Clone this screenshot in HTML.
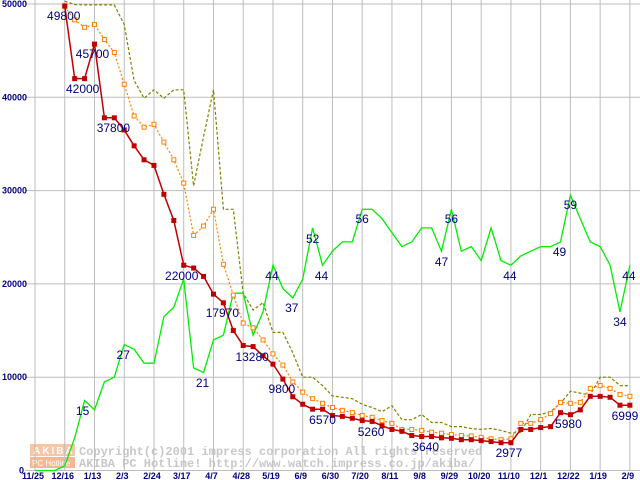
<!DOCTYPE html>
<html><head><meta charset="utf-8"><style>
html,body{margin:0;padding:0;background:#fff;}
svg{display:block;}
.tk{font-family:"Liberation Sans",sans-serif;font-size:9px;font-weight:bold;fill:#000080;}
.lb{font-family:"Liberation Sans",sans-serif;font-size:12px;fill:#000080;}
.wm{font-family:"Liberation Mono",monospace;font-size:12px;font-weight:bold;fill:#c8c8c8;}
</style></head><body>
<svg id="chart" width="640" height="480" viewBox="0 0 640 480">
<g id="wm">
<rect x="30" y="444" width="45" height="12" fill="#f7c6a4"/>
<rect x="30" y="457" width="45" height="11" fill="#f5b890"/>
<text x="33" y="454" font-family="Liberation Sans,sans-serif" font-size="10" font-weight="bold" fill="#fff" letter-spacing="2">AKIBA</text>
<text x="32" y="466" font-family="Liberation Sans,sans-serif" font-size="8" fill="#fff">PC Hotline</text>
<text class="wm" x="79" y="455">Copyright(c)2001 impress corporation All rights reserved</text>
<text class="wm" x="79" y="467">AKIBA PC Hotline!  http://www.watch.impress.co.jp/akiba/</text>
</g>
<g id="grid"></g><g id="series"></g><g id="labels"></g>
</svg>
<script>
const xLabels=["11/25","12/16","1/13","2/3","2/24","3/17","4/7","4/28","5/19","6/9","6/30","7/20","8/11","9/8","9/29","10/20","11/10","12/1","12/22","1/19","2/9"];
const yTicks=[0,10000,20000,30000,40000,50000];
const redPrice=[null,null,null,49800,42000,42000,45700,37800,37800,36500,34800,33300,32700,29600,26800,22000,21700,20800,18900,17970,15000,13400,13280,12300,11400,9800,7900,7100,6570,6570,5900,5800,5600,5350,5260,4800,4400,4200,3750,3640,3640,3500,3450,3300,3300,3200,3100,2977,2977,4400,4400,4600,4700,6200,5980,6500,7950,7950,7850,6999,6999];
const orangePrice=[null,null,null,49700,48300,47500,47800,46200,44800,41400,38000,36800,37100,35200,33300,30800,25200,26200,28000,22100,18800,15800,15300,14000,12500,11300,9500,8400,7700,7200,6750,6450,6200,5900,5700,5350,5050,4400,4400,4300,4100,4000,3850,3750,3700,3550,3400,3300,3400,5050,5050,5450,6100,7300,7200,7300,8800,9100,8800,8150,7950];
const olivePrice=[null,null,null,50300,49950,49900,49900,49900,49900,47800,41800,39900,40800,39900,40800,40800,30500,35800,40800,28000,28000,19000,17200,18000,14800,14800,12600,10000,10000,9100,8000,7850,7700,7100,6750,6300,6950,5450,5450,6000,5150,5150,4700,4700,4500,4400,4500,4300,4000,4100,6000,6000,6300,7200,8500,8300,8100,10000,10000,9100,9100];
const shopCount=[0,0,0,1,7,15,13,19,20,27,26,23,23,33,35,41,22,21,28,29,38,38,29,34,44,39,37,41,52,44,47,49,49,56,56,54,51,48,49,52,52,47,56,47,48,45,52,45,44,46,47,48,48,49,59,54,49,48,44,34,44];
const countScale=500;
const priceLabels=[[3,"49800",-1,15],[4,"42000",8,88],[6,"45700",-2,53],[7,"37800",9,127],[15,"22000",-2,275],[19,"17970",-1,312],[22,"13280",-1,356],[25,"9800",-1,388],[29,"6570",0,419],[34,"5260",-1,431],[39,"3640",4,446],[48,"2977",-2,452],[54,"5980",-2,423],[59,"6999",5,415]];
const countLabels=[[5,-2,410],[9,-1,354],[17,-1,382],[24,-1,275],[26,-1,307],[28,0,238],[29,-1,275],[33,0,218],[41,0,261],[42,0,218],[48,-1,275],[53,-1,251],[54,0,204],[59,0,321],[60,-1,275]];

const NS="http://www.w3.org/2000/svg";
const X0=35,DX=9.915,Y0=470.5,YS=93.3/10000;
function xs(i){return X0+i*DX;}
function ys(v){return Y0-v*YS;}
function mk(tag,attrs,parent){const e=document.createElementNS(NS,tag);for(const k in attrs)e.setAttribute(k,attrs[k]);parent.appendChild(e);return e;}
const grid=document.getElementById('grid'),ser=document.getElementById('series'),lab=document.getElementById('labels');

yTicks.forEach(v=>{
  const l=mk('line',{x1:25,x2:640,y1:ys(v),y2:ys(v),stroke:'#bdbdbd','stroke-width':1},grid);
  
  
  const t=mk('text',{x:v===0?24:27,y:ys(v)+3,'text-anchor':'end',class:'tk'},grid);
  t.textContent=String(v);
  
  
});
xLabels.forEach((s,k)=>{
  const x=xs(k*3);
  const l=mk('line',{x1:x,x2:x,y1:0,y2:470,stroke:'#bdbdbd','stroke-width':1},grid);
  
  
  const t=mk('text',{x:x-2,y:479,'text-anchor':'middle',class:'tk'},grid);
  t.textContent=s;
  
  
});

function path(arr,scale){let d='',pen=false;arr.forEach((v,i)=>{if(v==null){pen=false;return;}d+=(pen?'L':'M')+xs(i).toFixed(1)+','+ys(v*scale).toFixed(1);pen=true;});return d;}

const olive=mk('path',{d:path(olivePrice,1),fill:'none',stroke:'#808000','stroke-width':1.2,'stroke-dasharray':'3,2'},ser);


const green=mk('path',{d:path(shopCount,countScale),fill:'none',stroke:'#00ee00','stroke-width':1.3},ser);


const orange=mk('path',{d:path(orangePrice,1),fill:'none',stroke:'#ff8000','stroke-width':1.2,'stroke-dasharray':'2,2'},ser);


orangePrice.forEach((v,i)=>{if(v==null)return;
  const r=mk('rect',{x:xs(i)-2,y:ys(v)-2,width:4,height:4,fill:'#fff',stroke:'#ff8000','stroke-width':1},ser);
  
  
});
const red=mk('path',{d:path(redPrice,1),fill:'none',stroke:'#c00000','stroke-width':1.5},ser);


redPrice.forEach((v,i)=>{if(v==null)return;
  const r=mk('rect',{x:xs(i)-2.5,y:ys(v)-2.5,width:5,height:5,fill:'#c00000'},ser);
  
  
});

priceLabels.forEach(p=>{
  const t=mk('text',{x:xs(p[0])+p[2],y:p[3]+5,'text-anchor':'middle',class:'lb'},lab);
  t.textContent=p[1];
  
  
});
countLabels.forEach(p=>{
  const t=mk('text',{x:xs(p[0])+p[1],y:p[2]+5,'text-anchor':'middle',class:'lb'},lab);
  t.textContent=String(shopCount[p[0]]);
  
  
});
</script>
</body></html>
